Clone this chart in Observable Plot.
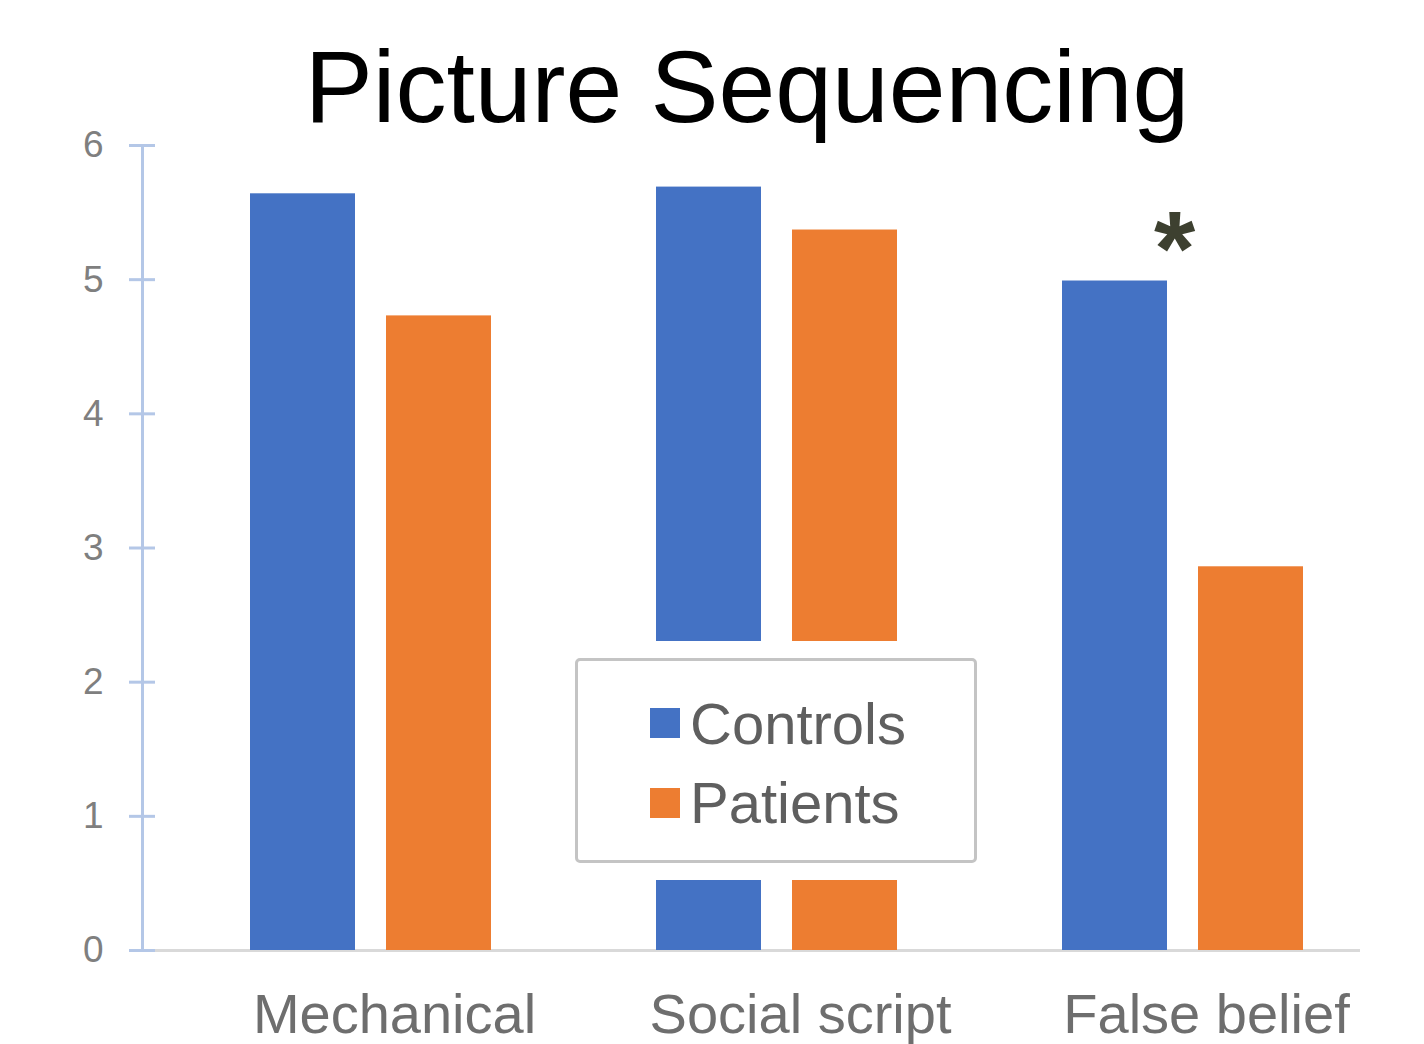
<!DOCTYPE html>
<html>
<head>
<meta charset="utf-8">
<script src="https://cdn.jsdelivr.net/npm/d3@7"></script>
<script src="https://cdn.jsdelivr.net/npm/@observablehq/plot@0.6"></script>
<style>
  body { margin: 0; background: #fff; font-family: "Liberation Sans", Arial, sans-serif; }
  #wrap { position: relative; width: 1424px; height: 1044px; overflow: hidden; background: #fff; }
  #title { position: relative; height: 130px; }
  #title span { position: absolute; left: 70px; width: 1354px; top: 36px; text-align: center;
    font-size: 102px; line-height: 102px; color: #000; white-space: nowrap; }
  #chart svg { display: block; }
  #legend { position: absolute; left: 558px; top: 641px; width: 436px; height: 239px;
    background: #fff; box-sizing: border-box; padding: 17px; }
  #legend .box { position: relative; width: 402px; height: 205px; box-sizing: border-box;
    border: 3px solid #c4c4c4; border-radius: 5px; background: #fff; }
  #legend .sw { position: absolute; width: 30px; height: 30px; left: 72px; }
  #legend .lb { position: absolute; left: 112px; font-size: 58px; line-height: 58px; color: #5f5f5f; white-space: nowrap; }
</style>
</head>
<body>
<div id="wrap">
  <div id="title"><span>Picture Sequencing</span></div>
  <div id="chart"></div>
  <div id="legend"><div class="box"></div></div>
</div>
<script>
const categories = ["Mechanical", "Social script", "False belief"];
const groups = ["Controls", "Patients"];
const controls = [5.64, 5.69, 4.99];
const patients = [4.73, 5.37, 2.86];
const yTicks = [0, 1, 2, 3, 4, 5, 6];
const colors = ["#4472C4", "#ED7D31"];
const sigCategories = ["False belief"];
const sigMarks = ["*"];

const data = categories.flatMap((c, i) => [
  {category: c, group: groups[0], value: controls[i]},
  {category: c, group: groups[1], value: patients[i]}
]);

const chart = Plot.plot({
  width: 1424,
  height: 914,
  marginTop: 15,
  marginBottom: 94,
  marginLeft: 142,
  marginRight: 64,
  style: {background: "transparent", fontFamily: "'Liberation Sans', Arial, sans-serif", overflow: "visible"},
  fx: {domain: categories, padding: 0, axis: null},
  x: {domain: groups, paddingInner: 0.226, paddingOuter: 0.595, align: 0.656, axis: null},
  y: {domain: [0, 6], axis: null},
  color: {domain: groups, range: colors},
  marks: [
    Plot.ruleY([0], {stroke: "#d9d9d9", strokeWidth: 3}),
    Plot.barY(data, {fx: "category", x: "group", y: "value", fill: "group"}),
    Plot.frame({anchor: "left", stroke: "#b4c7e7", strokeWidth: 3, facetAnchor: "left"}),
    Plot.axisY({ticks: yTicks, tickFormat: d => String(d), tickSize: 26, dx: 13, tickPadding: 26, fontSize: 37,
      color: "#7f7f7f", stroke: "#b4c7e7", strokeWidth: 3, strokeOpacity: 1, label: null, facetAnchor: "left"}),
    Plot.text(categories, {fx: d => d, text: d => d, frameAnchor: "bottom", lineAnchor: "top",
      dy: 43, dx: 49, fontSize: 56, fill: "#6e6e6e"}),
    Plot.text(sigCategories, {fx: d => d, y: d => controls[categories.indexOf(d)], text: (d, i) => sigMarks[i],
      dx: 17, dy: -30, fontSize: 106, fontWeight: "bold", fill: "#3d4030"})
  ]
});
document.getElementById("chart").appendChild(chart);

const box = document.querySelector("#legend .box");
const swTops = [47, 127];
const lbTops = [34, 113];
groups.forEach((g, i) => {
  const sw = document.createElement("div");
  sw.className = "sw";
  sw.style.top = swTops[i] + "px";
  sw.style.background = colors[i];
  box.appendChild(sw);
  const lb = document.createElement("div");
  lb.className = "lb";
  lb.style.top = lbTops[i] + "px";
  lb.textContent = g;
  box.appendChild(lb);
});
</script>
</body>
</html>
